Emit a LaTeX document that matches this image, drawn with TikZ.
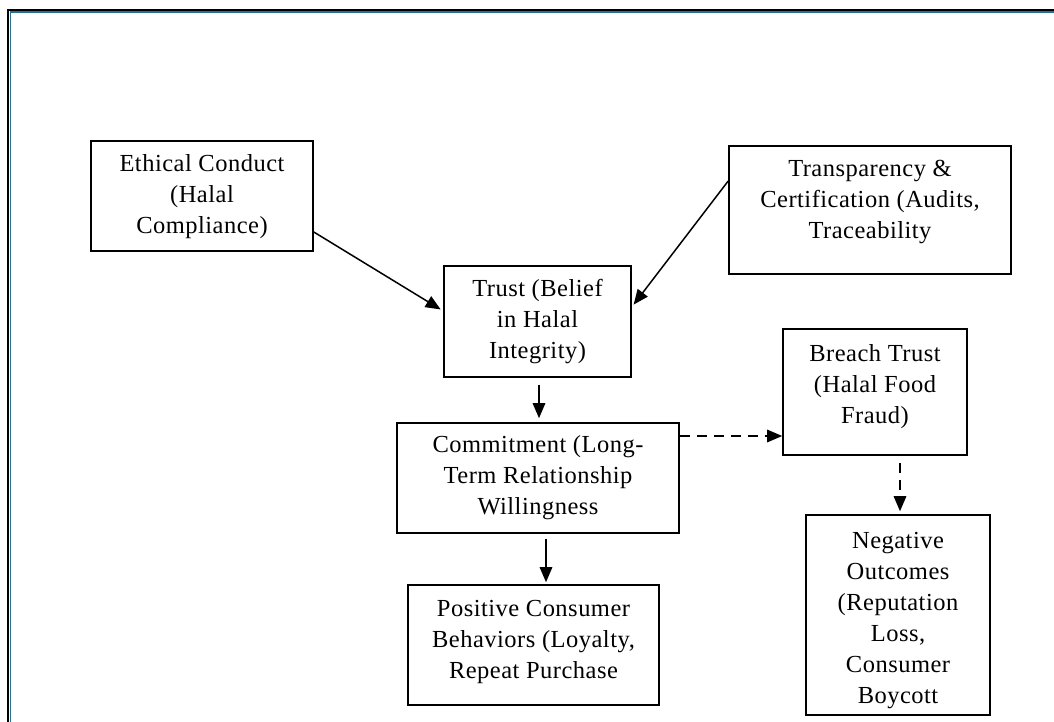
\documentclass[tikz,border=0pt]{standalone}
\usepackage{fontspec}
\setmainfont{Liberation Serif}[LetterSpace=2]
\usetikzlibrary{arrows.meta}
\begin{document}
\begin{tikzpicture}[x=1pt,y=-1pt,
  box/.style={draw=black,line width=1.6pt,rectangle,inner sep=0pt},
  txt/.style={align=center,inner sep=0pt,font=\fontsize{24.5}{31}\selectfont},
  arr/.style={line width=1.5pt,-{Triangle[length=15pt,width=12.5pt]}},
  darr/.style={arr,dash pattern=on 10pt off 7pt}]
\useasboundingbox (0,0) rectangle (1054,722);
\fill[white] (0,0) rectangle (1054,722);
% outer frame
\draw[line width=2pt,black] (8.3,722) -- (8.3,10) -- (1054,10);
\draw[line width=1.6pt,color={rgb,255:red,40;green,110;blue,150}] (10.3,722) -- (10.3,12) -- (1054,12);
% nodes
\node[box,minimum width=222pt,minimum height=110pt,
  label={[txt,yshift=-1pt]center:{Ethical Conduct\\(Halal\\Compliance)}}] (ethical) at (202,196) {};
\node[box,minimum width=282pt,minimum height=128pt,
  label={[txt,yshift=8pt]center:{Transparency \&\\Certification (Audits,\\Traceability}}] (transp) at (870,210) {};
\node[box,minimum width=187pt,minimum height=111pt,
  label={[txt,yshift=0pt]center:{Trust (Belief\\in Halal\\Integrity)}}] (trust) at (537.5,321.5) {};
\node[box,minimum width=184pt,minimum height=126pt,
  label={[txt,yshift=5pt]center:{Breach Trust\\(Halal Food\\Fraud)}}] (breach) at (875,392) {};
\node[box,minimum width=282pt,minimum height=110pt,
  label={[txt,yshift=0pt]center:{Commitment (Long-\\Term Relationship\\Willingness}}] (commit) at (538,478) {};
\node[box,minimum width=251pt,minimum height=120pt,
  label={[txt,yshift=3pt]center:{Positive Consumer\\Behaviors (Loyalty,\\Repeat Purchase}}] (positive) at (533.5,645) {};
\node[box,minimum width=184pt,minimum height=200pt,
  label={[txt,yshift=-6pt]center:{Negative\\Outcomes\\(Reputation\\Loss,\\Consumer\\Boycott}}] (negative) at (898,615) {};
% connectors
\draw[arr,shorten >=3pt] ([yshift=-36pt]ethical.east) -- ([yshift=10.5pt]trust.west);
\draw[arr,shorten >=3pt] ([yshift=29pt]transp.west) -- ([yshift=14.5pt]trust.east);
\draw[arr,shorten <=7pt,shorten >=4pt] ([xshift=1.5pt]trust.south) -- ([xshift=1pt]commit.north);
\draw[darr] ([yshift=42pt]commit.east) -- ([yshift=42pt]commit.east -| breach.west);
\draw[darr,shorten <=7pt,shorten >=3pt] ([xshift=25pt]breach.south) -- ([xshift=25pt]breach.south |- negative.north);
\draw[arr,shorten <=5pt,shorten >=2pt] ([xshift=8pt]commit.south) -- ([xshift=8pt]commit.south |- positive.north);
\end{tikzpicture}
\end{document}
